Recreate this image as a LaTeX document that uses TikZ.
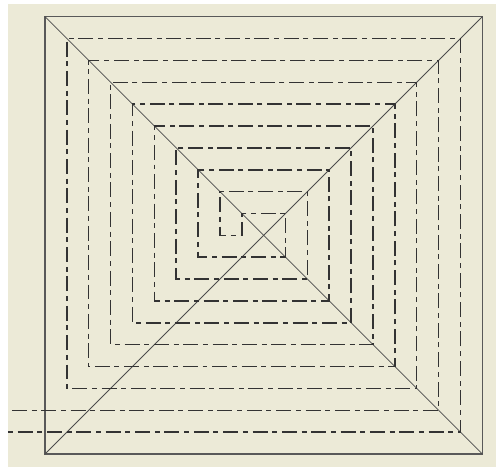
\documentclass[tikz,border=0pt]{standalone}
\begin{document}
\begin{tikzpicture}[x=1cm,y=1cm,
  outerline/.style={line width=1.9pt,black!65},
  diagline/.style={line width=1pt,black!70},
  spiralline/.style={line width=2pt,black!80,line join=miter,
    dash pattern=on 19.5pt off 6.1pt on 6.5pt off 6.1pt}]
\definecolor{bgbeige}{RGB}{236,234,215}
\useasboundingbox (-12.058,-10.595) rectangle (10.627,10.764);
\fill[bgbeige] (-11.692,-10.595) rectangle (10.627,10.581);
% outer square and diagonals
\draw[outerline] (-10,-10) rectangle (10,10);
\draw[diagline] (-10,-10) -- (10,10);
\draw[diagline] (-10,10) -- (10,-10);
% spiral arm ending at y=-9
\draw[spiralline,dash phase=25.6pt] (-11.692,-9) -- (9,-9) -- (9,9) -- (-9,9) -- (-9,-7)
  -- (7,-7) -- (7,7) -- (-7,7) -- (-7,-5) -- (5,-5) -- (5,5) -- (-5,5) -- (-5,-3)
  -- (3,-3) -- (3,3) -- (-3,3) -- (-3,-1) -- (1,-1) -- (1,1) -- (-1,1);
% spiral arm ending at y=-8
\draw[spiralline] (-11.51,-8) -- (8,-8) -- (8,8) -- (-8,8) -- (-8,-6)
  -- (6,-6) -- (6,6) -- (-6,6) -- (-6,-4) -- (4,-4) -- (4,4) -- (-4,4) -- (-4,-2)
  -- (2,-2) -- (2,2) -- (-2,2) -- (-2,0) -- (-1,0) -- (-1,1);
\end{tikzpicture}
\end{document}
